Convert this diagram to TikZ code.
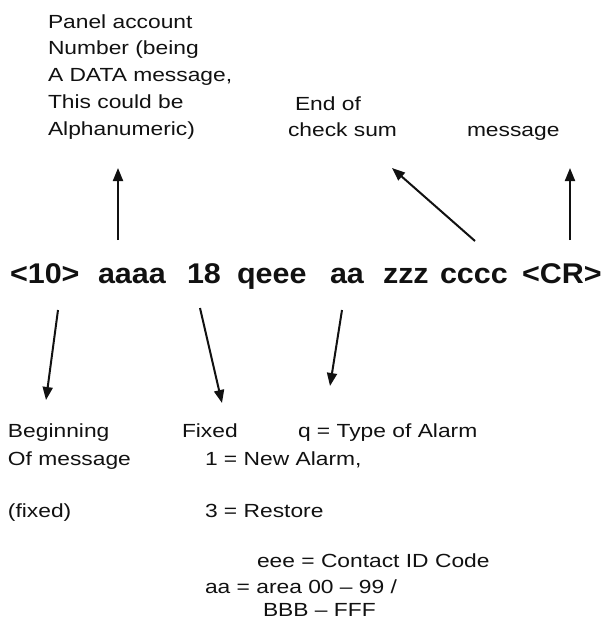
\documentclass[tikz,border=0pt]{standalone}
\usepackage{fontspec}
\usetikzlibrary{arrows.meta}
\newfontfamily\labfont[FakeStretch=1.2]{Liberation Sans}
\newfontfamily\mainfont[FakeStretch=1.07]{Liberation Sans}
\definecolor{ink}{HTML}{111111}
\begin{document}
\begin{tikzpicture}[x=1pt,y=-1pt,
  lab/.style={anchor=base west,inner sep=0pt,outer sep=0pt,text=ink,align=left,
    font=\labfont\fontsize{19}{26.7}\selectfont},
  tok/.style={anchor=base west,inner sep=0pt,outer sep=0pt,text=ink,
    font=\mainfont\bfseries\fontsize{28.5}{30}\selectfont},
  arr/.style={draw=ink,line width=2pt,-{Triangle[length=13pt,width=10pt]}}]
\path[use as bounding box] (0,0) rectangle (610,622);
% main message line
\node[tok] (t10) at (10,283) {<10>};
\node[tok] (taaaa) at (98,283) {aaaa};
\node[tok] (t18) at (187,283) {18};
\node[tok] (tqeee) at (237,283) {qeee};
\node[tok] (taa) at (330,283) {aa};
\node[tok] (tzzz) at (383,283) {zzz};
\node[tok] (tcccc) at (440,283) {cccc};
\node[tok] (tcr) at (522,283) {<CR>};
% top labels (base anchor of a multi-line node = last line)
\node[lab] (panel) at (48,135) {Panel account\\Number (being\\A DATA message,\\This could be\\Alphanumeric)};
\node[lab] (endof) at (295,110) {End of};
\node[lab] (checksum) at (288,136) {check sum};
\node[lab] (msg) at (467,136) {message};
% bottom labels
\node[lab] (begin) at (8,437) {Beginning};
\node[lab] (ofmsg) at (8,465) {Of message};
\node[lab] (fixedp) at (8,517) {(fixed)};
\node[lab] (fixed) at (182,437) {Fixed};
\node[lab] (qtype) at (298,437) {q = Type of Alarm};
\node[lab] (newal) at (205,465) {1 = New Alarm,};
\node[lab] (restore) at (205,517) {3 = Restore};
\node[lab] (eee) at (257,567) {eee = Contact ID Code};
\node[lab] (area) at (205,593) {aa = area 00 – 99 /};
\node[lab] (bbb) at (263,616) {BBB – FFF};
% arrow end points
\coordinate (u1s) at (118,240); \coordinate (u1e) at (118,168);
\coordinate (dgs) at (475,241); \coordinate (dge) at (392,168);
\coordinate (u2s) at (570,240); \coordinate (u2e) at (570,168);
\coordinate (d1s) at (58,310);  \coordinate (d1e) at (46,400);
\coordinate (d2s) at (200,308); \coordinate (d2e) at (222,403);
\coordinate (d3s) at (342,310); \coordinate (d3e) at (330,386);
\draw[arr] (u1s) -- (u1e);
\draw[arr] (dgs) -- (dge);
\draw[arr] (u2s) -- (u2e);
\draw[arr] (d1s) -- (d1e);
\draw[arr] (d2s) -- (d2e);
\draw[arr] (d3s) -- (d3e);
\end{tikzpicture}
\end{document}
